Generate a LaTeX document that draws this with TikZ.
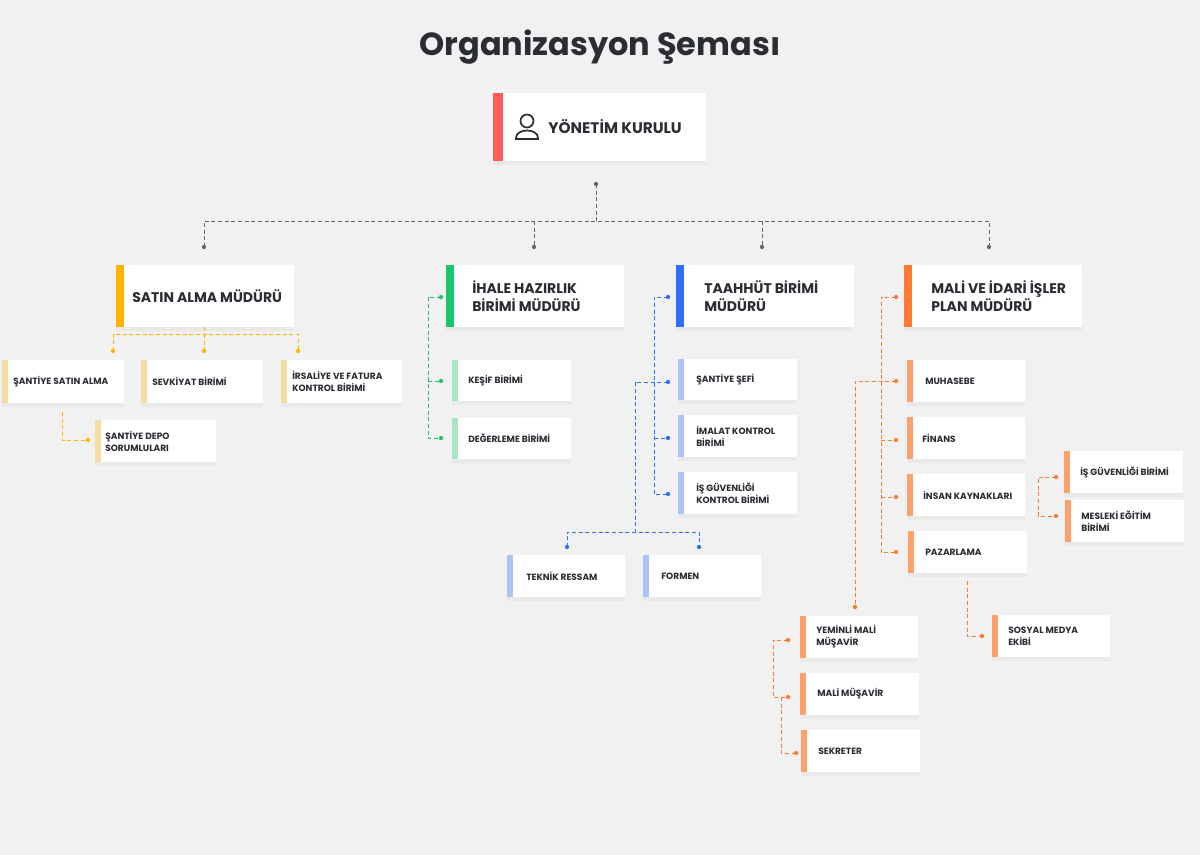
\documentclass[tikz,border=0pt]{standalone}
\usepackage{fontspec}
\setmainfont{Poppins}
\usetikzlibrary{shadows}
\definecolor{bg}{HTML}{F1F1F1}
\definecolor{ink}{HTML}{2A2D33}
\definecolor{cred}{HTML}{FF5A5A}
\definecolor{cyel}{HTML}{FFB400}
\definecolor{lyel}{HTML}{F5DCA0}
\definecolor{cgrn}{HTML}{1EC46B}
\definecolor{lgrn}{HTML}{A8E6C8}
\definecolor{cblu}{HTML}{2F6EF5}
\definecolor{lblu}{HTML}{A9C4F5}
\definecolor{corg}{HTML}{FF7A30}
\definecolor{lorg}{HTML}{FF9F6A}
\definecolor{cgry}{HTML}{666666}
\tikzset{
  boxfill/.style={fill=white, drop shadow={opacity=0.07, shadow xshift=0pt, shadow yshift=-3pt}},
  lvltext/.style={anchor=west, font=\bfseries\fontsize{10.5}{13}\selectfont, text=ink, align=left, inner sep=0},
  chtext/.style={anchor=west, font=\bfseries\fontsize{6.8}{9}\selectfont, text=ink, align=left, inner sep=0},
  conn/.style={densely dashed, line width=0.6pt},
  dotc/.style={circle, fill, inner sep=0, minimum size=3.2pt},
}
% name, x1,y1,x2,y2, barw, barcolor, textx, text(style via \curstyle)
\newcommand\obox[9]{%
  \path[boxfill] (#2,#3) rectangle (#4,#5);
  \fill[#7] (#2,#3) rectangle (#2+#6,#5);
  \node[\curstyle] (#1) at (#8,{(#3+#5)/2}) {#9};
  \coordinate (#1-l) at (#2,{(#3+#5)/2});
}
\def\curstyle{chtext}
\newcommand\dt[2]{\node[dotc] at (#1) {};}
\begin{document}
\begin{tikzpicture}[x=0.75pt,y=-0.75pt]
\fill[bg] (0,0) rectangle (1200,855);
\useasboundingbox (0,0) rectangle (1200,855);
\node[font=\bfseries\fontsize{24}{28}\selectfont, text=ink] (title) at (600,47) {Organizasyon Şeması};
% top
\def\curstyle{lvltext}
\obox{yk}{493}{93}{706}{161}{10}{cred}{548}{\fontsize{11.5}{14}\selectfont YÖNETİM KURULU}
\begin{scope}[ink, line width=1.3pt]
\draw (527,121) circle (6.5);
\draw (516,138) .. controls (516,128) and (538,128) .. (538,138) -- (538,139) -- (516,139) -- cycle;
\end{scope}
\obox{sa}{116}{265}{294}{327}{8}{cyel}{132}{SATIN ALMA MÜDÜRÜ}
\obox{ih}{446}{265}{624}{327}{8}{cgrn}{472}{İHALE HAZIRLIK\\BİRİMİ MÜDÜRÜ}
\obox{ta}{676}{265}{854}{327}{8}{cblu}{704}{TAAHHÜT BİRİMİ\\MÜDÜRÜ}
\obox{ma}{904}{265}{1082}{327}{8}{corg}{931}{MALİ VE İDARİ İŞLER\\PLAN MÜDÜRÜ}
\def\curstyle{chtext}
\obox{s1}{2}{360}{124}{403}{6}{lyel}{13}{ŞANTİYE SATIN ALMA}
\obox{s2}{141}{360}{263}{403}{6}{lyel}{152}{SEVKİYAT BİRİMİ}
\obox{s3}{281}{360}{402}{403}{6}{lyel}{292}{İRSALİYE VE FATURA\\KONTROL BİRİMİ}
\obox{s4}{95}{420}{216}{462}{6}{lyel}{105}{ŞANTİYE DEPO\\SORUMLULARI}
\obox{i1}{452}{360}{571}{401}{6}{lgrn}{468}{KEŞİF BİRİMİ}
\obox{i2}{452}{418}{571}{459}{6}{lgrn}{468}{DEĞERLEME BİRİMİ}
\obox{t1}{678}{359}{797}{400}{6}{lblu}{696}{ŞANTİYE ŞEFİ}
\obox{t2}{678}{415}{797}{457}{6}{lblu}{696}{İMALAT KONTROL\\BİRİMİ}
\obox{t3}{678}{472}{797}{514}{6}{lblu}{696}{İŞ GÜVENLİĞİ\\KONTROL BİRİMİ}
\obox{t4}{507}{555}{625}{597}{6}{lblu}{526}{TEKNİK RESSAM}
\obox{t5}{643}{555}{761}{597}{6}{lblu}{661}{FORMEN}
\obox{m1}{907}{360}{1025}{402}{6}{lorg}{925}{MUHASEBE}
\obox{m2}{907}{417}{1025}{459}{6}{lorg}{922}{FİNANS}
\obox{m3}{907}{474}{1025}{516}{6}{lorg}{923}{İNSAN KAYNAKLARI}
\obox{m4}{908}{531}{1027}{573}{6}{lorg}{925}{PAZARLAMA}
\obox{m5}{1064}{451}{1183}{493}{6}{lorg}{1080}{İŞ GÜVENLİĞİ BİRİMİ}
\obox{m6}{1065}{500}{1184}{542}{6}{lorg}{1081}{MESLEKİ EĞİTİM\\BİRİMİ}
\obox{m7}{992}{615}{1110}{657}{6}{lorg}{1008}{SOSYAL MEDYA\\EKİBİ}
\obox{y1}{800}{616}{918}{658}{6}{lorg}{816}{YEMİNLİ MALİ\\MÜŞAVİR}
\obox{y2}{800}{673}{919}{715}{6}{lorg}{817}{MALİ MÜŞAVİR}
\obox{y3}{801}{730}{920}{772}{6}{lorg}{818}{SEKRETER}
% connectors: top
\begin{scope}[cgry]
\draw[conn] (596,184) -- (596,221);
\draw[conn] (204,247) -- (204,221) -- (989,221) -- (989,247);
\draw[conn] (534,221) -- (534,247);
\draw[conn] (762,221) -- (762,247);
\foreach \p in {(596,184),(204,247),(534,247),(762,247),(989,247)} \node[dotc] at \p {};
\end{scope}
\begin{scope}[cyel]
\draw[conn] (204,327) -- (204,334);
\draw[conn] (113,351) -- (113,334) -- (298,334) -- (298,351);
\draw[conn] (204,334) -- (204,351);
\draw[conn] (62,412) -- (62,440) -- (88,440);
\foreach \p in {(113,351),(204,351),(298,351),(88,440)} \node[dotc] at \p {};
\end{scope}
\begin{scope}[cgrn]
\draw[conn] (441,297) -- (428,297) -- (428,438) -- (441,438);
\draw[conn] (428,381) -- (441,381);
\foreach \p in {(441,297),(441,381),(441,438)} \node[dotc] at \p {};
\end{scope}
\begin{scope}[cblu]
\draw[conn] (668,297) -- (654,297) -- (654,494) -- (668,494);
\draw[conn] (654,438) -- (668,438);
\draw[conn] (668,382) -- (635,382) -- (635,532);
\draw[conn] (567,547) -- (567,532) -- (699,532) -- (699,547);
\foreach \p in {(668,297),(668,382),(668,438),(668,494),(567,547),(699,547)} \node[dotc] at \p {};
\end{scope}
\begin{scope}[corg]
\draw[conn] (896,297) -- (881,297) -- (881,552) -- (896,552);
\draw[conn] (881,440) -- (896,440);
\draw[conn] (881,497) -- (896,497);
\draw[conn] (896,381) -- (855,381) -- (855,607);
\draw[conn] (1056,477) -- (1038,477) -- (1038,516) -- (1056,516);
\draw[conn] (967,581) -- (967,636) -- (982,636);
\draw[conn] (788,640) -- (773,640) -- (773,697) -- (788,697);
\draw[conn] (781,697) -- (781,753) -- (796,753);
\foreach \p in {(896,297),(896,381),(896,440),(896,497),(896,552),(855,607),(1056,477),(1056,516),(982,636),(788,640),(788,697),(796,753)} \node[dotc] at \p {};
\end{scope}
\end{tikzpicture}
\end{document}
